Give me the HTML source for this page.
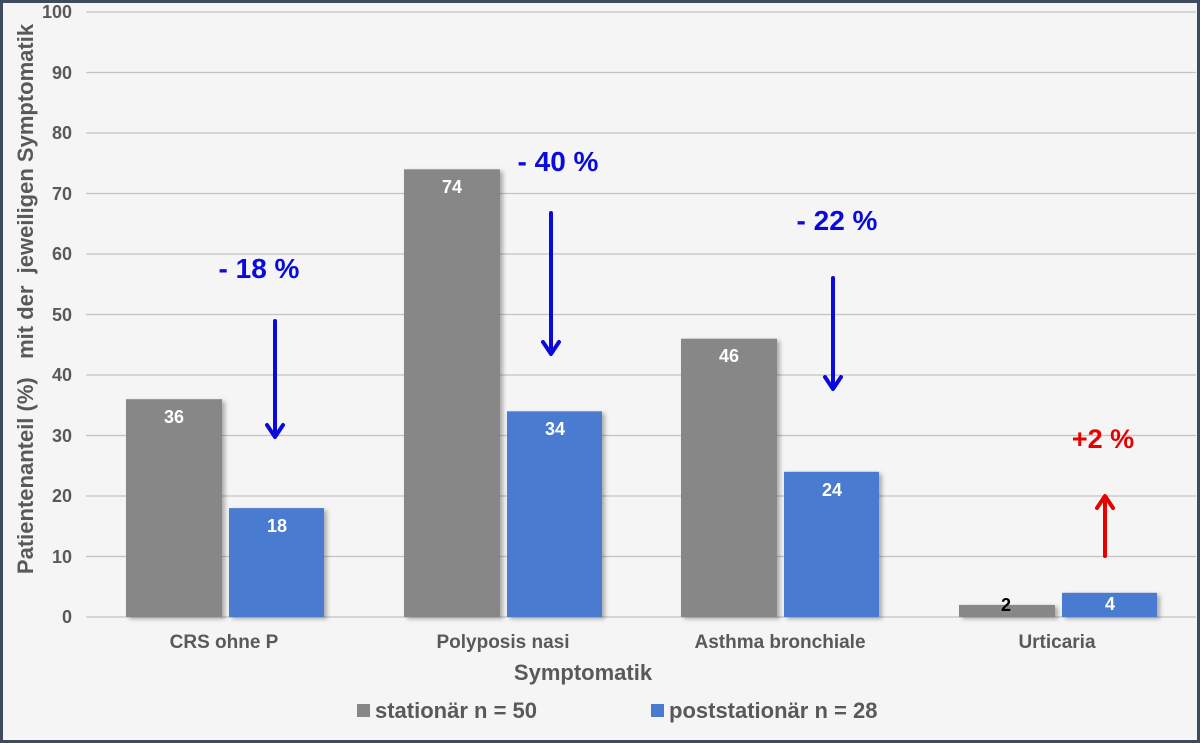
<!DOCTYPE html>
<html><head><meta charset="utf-8"><style>
html,body{margin:0;padding:0;background:#3d4b5d}
svg{display:block}
text{font-family:"Liberation Sans",Arial,sans-serif;font-weight:bold}
</style></head><body>
<svg width="1200" height="743" viewBox="0 0 1200 743" xmlns="http://www.w3.org/2000/svg">
<defs><filter id="sh" x="-10%" y="-10%" width="130%" height="130%"><feDropShadow dx="3" dy="2" stdDeviation="2" flood-color="#000" flood-opacity="0.3"/></filter></defs>
<rect x="3" y="3" width="1194" height="737" fill="#f5f5f5"/>
<g stroke="#c4c4c4" stroke-width="1.3">
<line x1="86" x2="1196" y1="12" y2="12"/><line x1="86" x2="1196" y1="72.5" y2="72.5"/>
<line x1="86" x2="1196" y1="133" y2="133"/><line x1="86" x2="1196" y1="193.5" y2="193.5"/>
<line x1="86" x2="1196" y1="254" y2="254"/><line x1="86" x2="1196" y1="314.5" y2="314.5"/>
<line x1="86" x2="1196" y1="375" y2="375"/><line x1="86" x2="1196" y1="435.5" y2="435.5"/>
<line x1="86" x2="1196" y1="496" y2="496"/><line x1="86" x2="1196" y1="556.5" y2="556.5"/>
<line x1="86" x2="1196" y1="617" y2="617"/>
</g>
<g fill="#595959" font-size="18" text-anchor="end">
<text x="72" y="18">100</text><text x="72" y="79">90</text><text x="72" y="139">80</text>
<text x="72" y="200">70</text><text x="72" y="260">60</text><text x="72" y="321">50</text>
<text x="72" y="381">40</text><text x="72" y="442">30</text><text x="72" y="502">20</text>
<text x="72" y="563">10</text><text x="72" y="623">0</text>
</g>
<text transform="translate(33,299) rotate(-90)" text-anchor="middle" fill="#595959" font-size="22">Patientenanteil (%)&#160;&#160; mit der&#160; jeweiligen Symptomatik</text>
<g filter="url(#sh)">
<rect x="126" y="399.2" width="96" height="217.8" fill="#878787"/>
<rect x="229" y="508.1" width="95" height="108.9" fill="#4a7bd0"/>
<rect x="404" y="169.3" width="96" height="447.7" fill="#878787"/>
<rect x="507" y="411.3" width="95" height="205.7" fill="#4a7bd0"/>
<rect x="681" y="338.7" width="96" height="278.3" fill="#878787"/>
<rect x="784" y="471.8" width="95" height="145.2" fill="#4a7bd0"/>
<rect x="959" y="604.9" width="96" height="12.1" fill="#878787"/>
<rect x="1062" y="592.8" width="95" height="24.2" fill="#4a7bd0"/>
</g>
<g fill="#fff" font-size="18" text-anchor="middle">
<text x="174" y="423">36</text><text x="277" y="532">18</text>
<text x="452" y="193">74</text><text x="555" y="435">34</text>
<text x="729" y="362">46</text><text x="832" y="496">24</text>
<text x="1110" y="610">4</text>
</g>
<text x="1006" y="611" fill="#000" font-size="18" text-anchor="middle">2</text>
<g fill="#595959" font-size="19" text-anchor="middle">
<text x="224" y="648">CRS ohne P</text><text x="503" y="648">Polyposis nasi</text>
<text x="780" y="648">Asthma bronchiale</text><text x="1057" y="648">Urticaria</text>
</g>
<text x="583" y="680" fill="#595959" font-size="22" text-anchor="middle">Symptomatik</text>
<rect x="357" y="704" width="13" height="13" fill="#878787"/>
<text x="375" y="718" fill="#595959" font-size="22">stationär n = 50</text>
<rect x="651" y="704" width="13" height="13" fill="#4a7bd0"/>
<text x="669" y="718" fill="#595959" font-size="22">poststationär n = 28</text>
<g stroke="#0a0adc" stroke-width="4" fill="none" stroke-linecap="round" stroke-linejoin="round">
<line x1="275" y1="321" x2="275" y2="436"/><polyline points="267,425 275,437 283,425"/>
<line x1="551" y1="213" x2="551" y2="353"/><polyline points="543,342 551,354 559,342"/>
<line x1="833" y1="278" x2="833" y2="388"/><polyline points="825,377 833,389 841,377"/>
</g>
<g stroke="#e60000" stroke-width="4" fill="none" stroke-linecap="round" stroke-linejoin="round">
<line x1="1105" y1="556" x2="1105" y2="497"/><polyline points="1097,508 1105,496 1113,508"/>
</g>
<g fill="#0a0adc" font-size="28" text-anchor="middle">
<text x="259" y="278">- 18 %</text><text x="558" y="171">- 40 %</text><text x="837" y="230">- 22 %</text>
</g>
<text x="1103" y="448" fill="#e60000" font-size="27" text-anchor="middle">+2 %</text>
</svg>
</body></html>
